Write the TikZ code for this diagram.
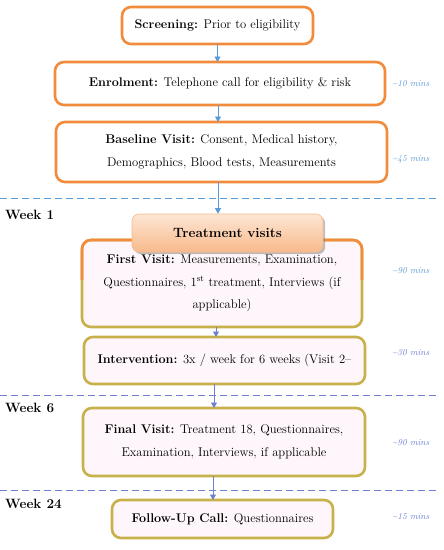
\documentclass[tikz,border=0pt]{standalone}
\usepackage{tikz}
\usetikzlibrary{arrows.meta, positioning, shadows}

\definecolor{stageorange}{HTML}{F28C3C}
\definecolor{stagegold}{HTML}{C8B04A}
\definecolor{paleink}{HTML}{FEF6FA}
\definecolor{sepblue}{HTML}{5B9BD5}
\definecolor{seppurple}{HTML}{6F80D0}
\definecolor{peachtop}{HTML}{FDE6D4}
\definecolor{peachbot}{HTML}{F8BA8C}

\begin{document}
\begin{tikzpicture}[
  x=1pt, y=-1pt,
  stage/.style={rectangle, draw=stageorange, line width=2.6pt, rounded corners=9pt,
                fill=white, align=center, inner sep=2pt, outer sep=0pt,
                font=\fontsize{12.6}{22.5}\selectfont},
  goldstage/.style={stage, draw=stagegold, fill=paleink},
  header/.style={rectangle, rounded corners=7pt, draw=stageorange!60, line width=0.6pt,
                 top color=peachtop, bottom color=peachbot, drop shadow,
                 font=\fontsize{13.5}{15}\selectfont\bfseries},
  timelbl/.style={anchor=east, font=\fontsize{9}{11}\selectfont\itshape},
  weeklbl/.style={anchor=west, inner sep=0pt, font=\fontsize{13.5}{15}\selectfont\bfseries},
  flow/.style={line width=0.8pt, -{Triangle[length=5.5pt,width=6pt]}},
  sep/.style={line width=0.8pt, dash pattern=on 7pt off 4pt},
]
\useasboundingbox (0,0) rectangle (444,550);

% ---- stages ----
\node[stage, minimum width=191pt, minimum height=37pt] (screen) at (217.5,25.5)
  {\textbf{Screening:} Prior to eligibility};

\node[stage, minimum width=330pt, minimum height=43pt] (enrol) at (220,83.5)
  {\textbf{Enrolment:} Telephone call for eligibility \& risk};

\node[stage, minimum width=331pt, minimum height=60pt] (base) at (221.5,152)
  {\textbf{Baseline Visit:} Consent, Medical history,\\Demographics, Blood tests, Measurements};

\node[goldstage, minimum width=280pt, minimum height=87pt] (first) at (222,283.5)
  {\textbf{First Visit:} Measurements, Examination,\\Questionnaires, 1\textsuperscript{st} treatment, Interviews (if\\applicable)};
\begin{scope}
  \clip (0,230) rectangle (444,279);
  \draw[stageorange, line width=2.6pt, rounded corners=9pt]
    (first.north west) rectangle (first.south east);
\end{scope}

\node[header, minimum width=191pt, minimum height=38pt] (treat) at (227.5,233) {Treatment visits};

\node[goldstage, minimum width=281pt, minimum height=47pt] (interv) at (224.5,360.5)
  {\textbf{Intervention:} 3x / week for 6 weeks (Visit 2--};

\node[goldstage, minimum width=282pt, minimum height=68pt] (final) at (224,442)
  {\textbf{Final Visit:} Treatment 18, Questionnaires,\\Examination, Interviews, if applicable};

\node[goldstage, minimum width=221pt, minimum height=38pt] (follow) at (222.5,519)
  {\textbf{Follow-Up Call:} Questionnaires};

% ---- weeks ----
\draw[sep, sepblue]   (0,198) -- (440,198);
\draw[sep, seppurple] (0,395) -- (436,395);
\draw[sep, seppurple] (0,490) -- (436,490);

\node[weeklbl] (wk1)  at (5,215) {Week 1};
\node[weeklbl] (wk6)  at (5,408) {Week 6};
\node[weeklbl] (wk24) at (5,504) {Week 24};

% ---- durations ----
\node[timelbl, text=sepblue]   (t10) at (433,84)  {\textasciitilde10 mins};
\node[timelbl, text=sepblue]   (t45) at (433,159) {\textasciitilde45 mins};
\node[timelbl, text=sepblue]   (t90) at (433,271) {\textasciitilde90 mins};
\node[timelbl, text=seppurple] (t30) at (433,353) {\textasciitilde30 mins};
\node[timelbl, text=seppurple] (t90b) at (433,443) {\textasciitilde90 mins};
\node[timelbl, text=seppurple] (t15) at (433,517) {\textasciitilde15 mins};

% ---- arrows ----
\draw[flow, sepblue] (screen.south) -- (screen.south |- enrol.north);
\draw[flow, sepblue] ([xshift=-2pt]enrol.south) -- ([xshift=-2pt]enrol.south |- base.north);
\draw[flow, sepblue] ([xshift=-3.5pt]base.south) -- ([xshift=-3.5pt]base.south |- treat.north);
\draw[flow, seppurple] ([xshift=-6pt]first.south) -- ([xshift=-6pt]first.south |- interv.north);
\draw[flow, seppurple] ([xshift=-10.5pt]interv.south) -- ([xshift=-10.5pt]interv.south |- final.north);
\draw[flow, seppurple] ([xshift=-11pt]final.south) -- ([xshift=-11pt]final.south |- follow.north);

\end{tikzpicture}
\end{document}
